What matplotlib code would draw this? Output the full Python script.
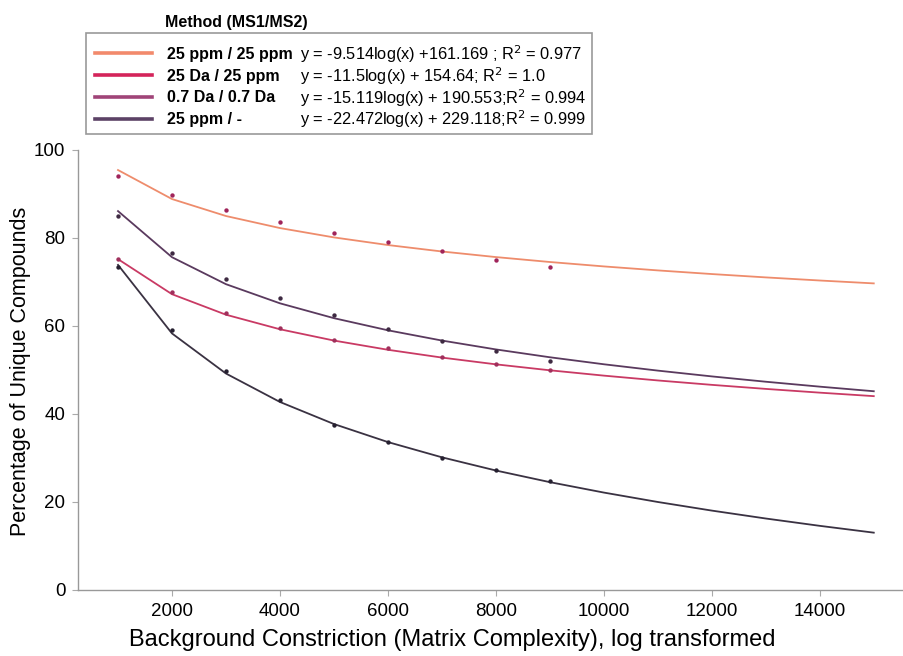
import numpy as np
import matplotlib
matplotlib.use("Agg")
import matplotlib.pyplot as plt
from matplotlib.lines import Line2D
from matplotlib.patches import Rectangle

plt.rcParams['font.family'] = ['Liberation Sans', 'DejaVu Sans']

# ---- data ----
methods = ["25 ppm / 25 ppm", "25 Da / 25 ppm", "0.7 Da / 0.7 Da", "25 ppm / -"]
equations = ["y = -9.514log(x) +161.169 ; R$^2$ = 0.977",
             "y = -11.5log(x) + 154.64; R$^2$ = 1.0",
             "y = -15.119log(x) + 190.553;R$^2$ = 0.994",
             "y = -22.472log(x) + 229.118;R$^2$ = 0.999"]
slopes = [-9.514, -11.5, -15.119, -22.472]
intercepts = [161.169, 154.64, 190.553, 229.118]

x_points = [1000, 2000, 3000, 4000, 5000, 6000, 7000, 8000, 9000]
y_ppm_ppm = [94.1, 89.8, 86.4, 83.6, 81.1, 79.0, 77.0, 75.1, 73.4]
y_da_ppm = [75.2, 67.7, 62.9, 59.5, 56.9, 54.9, 52.9, 51.4, 49.9]
y_da_da = [85.0, 76.5, 70.6, 66.3, 62.4, 59.3, 56.7, 54.4, 52.1]
y_ppm_none = [73.4, 59.2, 49.8, 43.2, 37.6, 33.6, 30.0, 27.2, 24.8]
point_series = [y_ppm_ppm, y_da_ppm, y_da_da, y_ppm_none]

fit_x = [1000, 2000, 3000, 4000, 5000, 6000, 7000, 8000,
         9000, 10000, 11000, 12000, 13000, 14000, 15000]

x_ticks = [2000, 4000, 6000, 8000, 10000, 12000, 14000]
y_ticks = [0, 20, 40, 60, 80, 100]

# ---- styles ----
legend_colors = ["#F28A6C", "#D4245A", "#A04478", "#5C4266"]
line_colors = ["#EE8C6C", "#C93A64", "#5A3A5E", "#3A3242"]
point_colors = ["#A0245A", "#A0305C", "#3E2A42", "#262030"]

W, H = 904, 656
fig = plt.figure(figsize=(W / 100, H / 100), dpi=100)
ax = fig.add_axes([78 / W, 66 / H, (W - 78) / W, 440 / H])

fx = np.array(fit_x, dtype=float)
for a, b, lc in zip(slopes, intercepts, line_colors):
    ax.plot(fx, a * np.log(fx) + b, color=lc, lw=1.3, zorder=2)
for ys, pc in zip(point_series, point_colors):
    ax.scatter(x_points, ys, s=10, color=pc, zorder=3, linewidths=0)

ax.set_xlim(259, 15560)
ax.set_ylim(0, 100)
ax.set_xticks(x_ticks)
ax.set_yticks(y_ticks)
ax.tick_params(labelsize=13.5, length=4, width=0.8, color="#aaaaaa", pad=5)
for s in ["top", "right"]:
    ax.spines[s].set_visible(False)
for s in ["left", "bottom"]:
    ax.spines[s].set_color("#999999")
    ax.spines[s].set_linewidth(1.0)

ax.set_xlabel("Background Constriction (Matrix Complexity), log transformed",
              fontsize=17)
ax.xaxis.set_label_coords((452 - 78) / (W - 78), -(640 - 590) / 440)
ax.xaxis.label.set_va("center")
ax.set_ylabel("Percentage of Unique Compounds", fontsize=15.5)
ax.yaxis.set_label_coords(-(78 - 21) / (W - 78), (590 - 371) / 440)
ax.yaxis.label.set_va("center")

# ---- legend ----
handles = [Line2D([0], [0], color=c, lw=2.6) for c in legend_colors]
leg = fig.legend(handles, methods, loc="upper left",
                 bbox_to_anchor=(95 / W, 1 - 47 / H),
                 frameon=False, prop={"weight": "bold", "size": 11.5},
                 handlelength=3.6, handletextpad=0.9, labelspacing=0.42,
                 borderpad=0, borderaxespad=0)
fig.add_artist(Rectangle((86 / W, 1 - 134 / H), (592 - 86) / W, (134 - 33) / H,
                         transform=fig.transFigure, fill=False,
                         edgecolor="#999999", lw=1.2))
fig.text(165 / W, 1 - 23 / H, "Method (MS1/MS2)", fontsize=11.5,
         fontweight="bold", ha="left", va="center")

fig.canvas.draw()
renderer = fig.canvas.get_renderer()
for t, eq in zip(leg.get_texts(), equations):
    bb = t.get_window_extent(renderer)
    yc = (bb.y0 + bb.y1) / 2 / H
    fig.text(300 / W, yc, eq, fontsize=11.8, ha="left", va="center")

fig.savefig("out.png", dpi=100)
